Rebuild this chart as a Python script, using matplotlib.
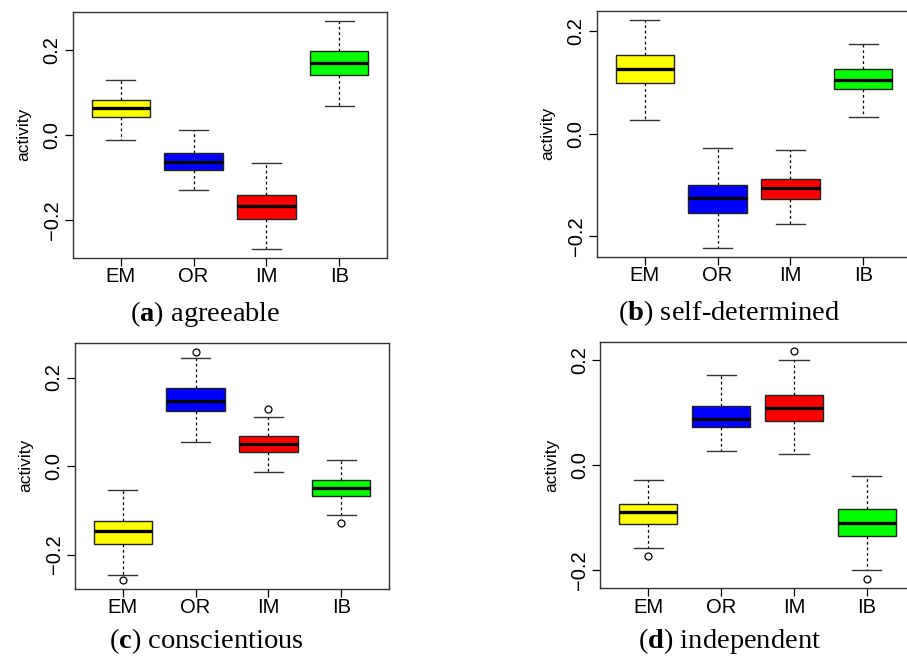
import matplotlib
matplotlib.use("Agg")
import matplotlib.pyplot as plt

plt.rcParams['font.family'] = ['Liberation Sans', 'DejaVu Sans']
plt.rcParams['mathtext.fontset'] = 'custom'
plt.rcParams['mathtext.rm'] = 'Liberation Serif'
plt.rcParams['mathtext.bf'] = 'Liberation Serif:bold'

# groups and colours
groups = ['EM', 'OR', 'IM', 'IB']
colors = ['#ffff00', '#0000ff', '#ff0000', '#00ff00']

# (a) agreeable
a_whislo = [-0.012, -0.129, -0.268, 0.067]
a_q1 = [0.0415, -0.083, -0.198, 0.140]
a_med = [0.064, -0.063, -0.167, 0.168]
a_q3 = [0.082, -0.0415, -0.140, 0.197]
a_whishi = [0.128, 0.011, -0.067, 0.268]
a_fliers = [[], [], [], []]

# (b) self-determined
b_whislo = [0.027, -0.223, -0.176, 0.032]
b_q1 = [0.099, -0.154, -0.127, 0.087]
b_med = [0.126, -0.126, -0.105, 0.1056]
b_q3 = [0.153, -0.0997, -0.088, 0.1265]
b_whishi = [0.222, -0.027, -0.032, 0.176]
b_fliers = [[], [], [], []]

# (c) conscientious
c_whislo = [-0.245, 0.054, -0.0136, -0.110]
c_q1 = [-0.177, 0.124, 0.031, -0.068]
c_med = [-0.146, 0.148, 0.050, -0.049]
c_q3 = [-0.124, 0.177, 0.068, -0.032]
c_whishi = [-0.054, 0.245, 0.111, 0.0128]
c_fliers = [[-0.258], [0.258], [0.128], [-0.128]]

# (d) independent
d_whislo = [-0.158, 0.028, 0.021, -0.200]
d_q1 = [-0.112, 0.073, 0.084, -0.134]
d_med = [-0.089, 0.089, 0.109, -0.109]
d_q3 = [-0.0736, 0.113, 0.134, -0.084]
d_whishi = [-0.028, 0.172, 0.200, -0.020]
d_fliers = [[-0.172], [], [0.217], [-0.216]]

panels = [
    ('a', 'agreeable', a_whislo, a_q1, a_med, a_q3, a_whishi, a_fliers),
    ('b', 'self-determined', b_whislo, b_q1, b_med, b_q3, b_whishi, b_fliers),
    ('c', 'conscientious', c_whislo, c_q1, c_med, c_q3, c_whishi, c_fliers),
    ('d', 'independent', d_whislo, d_q1, d_med, d_q3, d_whishi, d_fliers),
]

W, H = 907, 657
# axes rectangles in pixels: left, top, bottom, and y-limits
boxes_px = [
    (72.7, 11.7, 257.7, (-0.288, 0.289)),
    (596.7, 10.7, 256.7, (-0.240, 0.240)),
    (74.7, 343.0, 588.7, (-0.277, 0.278)),
    (600.3, 342.3, 588.3, (-0.234, 0.234)),
]
ax_w = 314.6
caption_pos = [(205.5, 314), (729, 313), (206, 641), (730, 641)]

fig = plt.figure(figsize=(W / 100, H / 100), dpi=100)

for i, (letter, name, wlo, q1, med, q3, whi, fl) in enumerate(panels):
    left, top, bottom, ylim = boxes_px[i]
    ax = fig.add_axes([left / W, 1 - bottom / H, ax_w / W, (bottom - top) / H])
    stats = []
    for j in range(len(groups)):
        stats.append({'whislo': wlo[j], 'q1': q1[j], 'med': med[j], 'q3': q3[j],
                      'whishi': whi[j], 'fliers': fl[j], 'label': groups[j]})
    bp = ax.bxp(stats, positions=[1, 2, 3, 4], widths=0.8, patch_artist=True,
                showfliers=True,
                boxprops=dict(edgecolor='#222222', linewidth=1.0),
                medianprops=dict(color='black', linewidth=2.4, solid_capstyle='butt'),
                whiskerprops=dict(color='black', linewidth=0.9, linestyle=(0, (2.2, 2.2))),
                capprops=dict(color='#333333', linewidth=1.0),
                capwidths=0.4,
                flierprops=dict(marker='o', markersize=5, markerfacecolor='none',
                                markeredgecolor='black', markeredgewidth=0.9))
    for patch, c in zip(bp['boxes'], colors):
        patch.set_facecolor(c)
    ax.set_xlim(0.34, 4.66)
    ax.set_ylim(*ylim)
    ax.set_yticks([-0.2, 0.0, 0.2])
    ax.set_yticklabels(['\u22120.2', '0.0', '0.2'], rotation=90, va='center')
    ax.set_xticks([1, 2, 3, 4])
    ax.set_xticklabels(groups)
    ax.tick_params(axis='x', length=6, width=0.9, pad=1, labelsize=14.5)
    ax.tick_params(axis='y', length=6, width=0.9, pad=2, labelsize=14.5)
    for sp in ax.spines.values():
        sp.set_color('#333333')
        sp.set_linewidth(1.0)
    ax.text(-49 / ax_w, 0.5, 'activity', transform=ax.transAxes, rotation=90,
            ha='center', va='center', fontsize=12.5)
    cx, cy = caption_pos[i]
    fig.text(cx / W, 1 - cy / H, r'($\mathbf{' + letter + r'}$) ' + name,
             ha='center', va='center', fontsize=20.5, family='Liberation Serif')

fig.savefig('out.png', dpi=100)
